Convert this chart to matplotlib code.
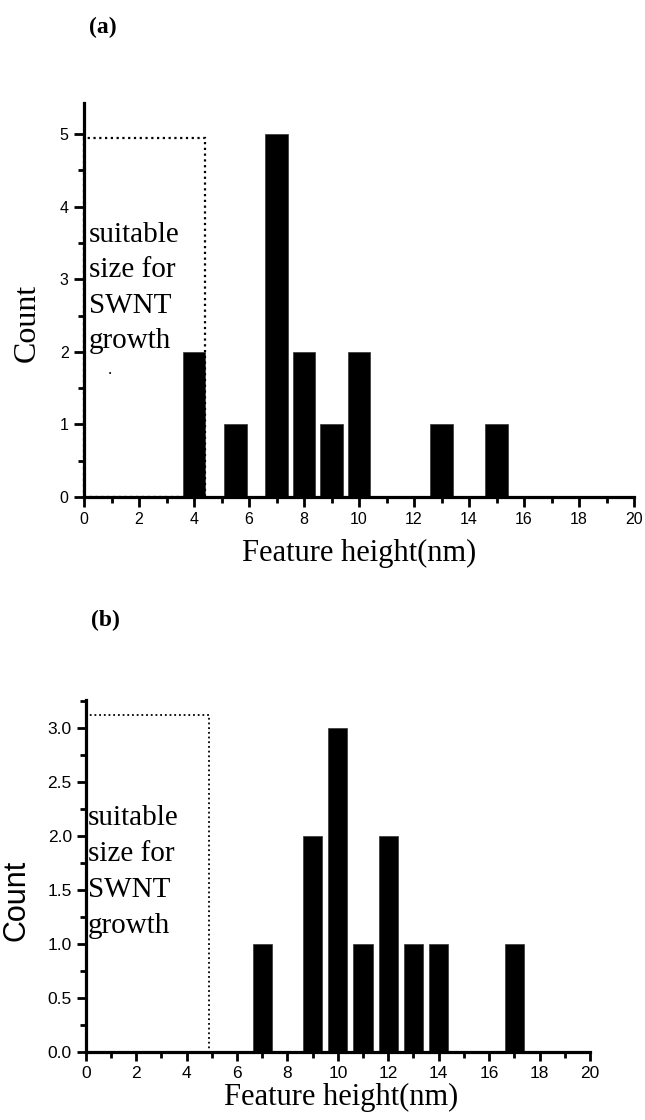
import matplotlib
matplotlib.use("Agg")
import matplotlib.pyplot as plt
from matplotlib.patches import Rectangle
from matplotlib.ticker import MultipleLocator, FormatStrFormatter

plt.rcParams["font.family"] = "sans-serif"
plt.rcParams["font.sans-serif"] = ["Liberation Sans", "Arial", "DejaVu Sans"]
plt.rcParams["font.serif"] = ["Liberation Serif", "Times New Roman", "DejaVu Serif"]

# ---- data ----
a_heights = [4, 5.5, 7, 8, 9, 10, 13, 15]
a_counts = [2, 1, 5, 2, 1, 2, 1, 1]
b_heights = [7, 9, 10, 11, 12, 13, 14, 17]
b_counts = [1, 2, 3, 1, 2, 1, 1, 1]
a_box = (4.4, 4.95)   # suitable-size box width / height (panel a)
b_box = (4.9, 3.12)   # panel b
x_label = "Feature height(nm)"
y_label = "Count"
note_lines = ["suitable", "size for", "SWNT", "growth"]

W, H = 645, 1120
fig = plt.figure(figsize=(W / 100, H / 100), dpi=100)

SERIF = "serif"
SANS = "sans-serif"

def px(x, y):
    return x / W, 1 - y / H

def style_axes(ax, ymajor, yminor, fs, maj_len, min_len):
    for s in ("top", "right"):
        ax.spines[s].set_visible(False)
    for s in ("left", "bottom"):
        ax.spines[s].set_linewidth(2.3)
    ax.set_xlim(0, 20)
    ax.xaxis.set_major_locator(MultipleLocator(2))
    ax.xaxis.set_minor_locator(MultipleLocator(1))
    ax.yaxis.set_major_locator(MultipleLocator(ymajor))
    ax.yaxis.set_minor_locator(MultipleLocator(yminor))
    ax.tick_params(which="major", direction="out", length=maj_len, width=2.0,
                   pad=3.5, labelsize=fs)
    ax.tick_params(which="minor", direction="out", length=min_len, width=2.0)

# ---- panel (a) ----
ax1 = fig.add_axes([84 / W, (H - 497) / H, (634 - 84) / W, (497 - 103) / H])
ax1.bar(a_heights, a_counts, width=0.83, color="black", edgecolor="#333333",
        linewidth=0.5, zorder=2)
ax1.set_ylim(0, 5.43)
style_axes(ax1, 1, 0.5, 11.5, 7.5, 4.5)
ax1.add_patch(Rectangle((0, 0), a_box[0], a_box[1], fill=False,
                        linestyle=(0, (1, 1.6)), linewidth=1.6,
                        edgecolor="black", zorder=3, clip_on=False))

# ---- panel (b) ----
ax2 = fig.add_axes([85.7 / W, (H - 1052) / H, (590 - 85.7) / W, (1052 - 700) / H])
ax2.bar(b_heights, b_counts, width=0.76, color="black", edgecolor="#333333",
        linewidth=0.5, zorder=2)
ax2.set_ylim(0, 3.256)
style_axes(ax2, 0.5, 0.25, 12.5, 6.5, 4.0)
ax2.yaxis.set_major_formatter(FormatStrFormatter("%.1f"))
ax2.add_patch(Rectangle((0, 0), b_box[0], b_box[1], fill=False,
                        linestyle=(0, (1, 1.6)), linewidth=1.3,
                        edgecolor="black", zorder=3, clip_on=False))

# ---- text ----
fig.text(*px(103, 27), "(a)", family=SERIF, weight="bold", fontsize=17,
         ha="center", va="center")
fig.text(*px(105, 620), "(b)", family=SERIF, weight="bold", fontsize=17,
         ha="center", va="center")

fig.text(*px(27, 323), y_label, family=SERIF, fontsize=23, rotation=90,
         ha="center", va="center")
fig.text(*px(17, 900), y_label, family=SANS, fontsize=22, rotation=90,
         ha="center", va="center")

fig.text(*px(359, 553), x_label, family=SERIF, fontsize=22,
         ha="center", va="center")
fig.text(*px(341, 1097), x_label, family=SERIF, fontsize=22,
         ha="center", va="center")

for i, line in enumerate(note_lines):
    fig.text(*px(89, 241.7 + 35.5 * i), line, family=SERIF, fontsize=21,
             ha="left", va="baseline")
    fig.text(*px(88, 825 + 36 * i), line, family=SERIF, fontsize=21,
             ha="left", va="baseline")
fig.text(*px(110, 378), ".", family=SERIF, fontsize=12, ha="center",
         va="bottom")

fig.savefig("out.png", dpi=100)
